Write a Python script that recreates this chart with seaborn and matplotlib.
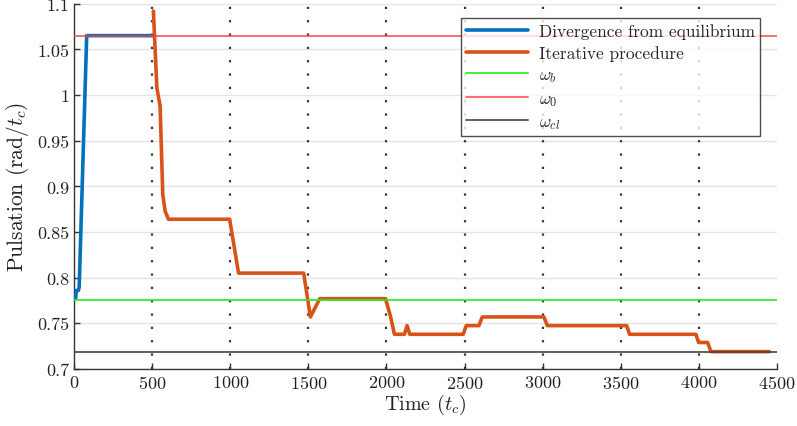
import numpy as np
import pandas as pd
import seaborn as sns
import matplotlib.pyplot as plt

# Dados
t_div = [10, 14, 28, 33, 81, 510]
w_div = [0.777, 0.786, 0.786, 0.790, 1.065, 1.065]

t_iter = [508, 530, 551, 568, 583, 604, 996, 1053, 1470, 1513, 1573, 1994, 2026, 2051,
          2115, 2132, 2149, 2491, 2511, 2592, 2613, 3008, 3030, 3538, 3556, 3981, 3998,
          4056, 4077, 4451]
w_iter = [1.092, 1.008, 0.988, 0.891, 0.873, 0.864, 0.864, 0.805, 0.805, 0.757, 0.777,
          0.777, 0.7575, 0.738, 0.738, 0.7475, 0.738, 0.738, 0.7475, 0.7475, 0.757, 0.757,
          0.7475, 0.7475, 0.738, 0.738, 0.729, 0.729, 0.719, 0.719]

omega_b = 0.776
omega_0 = 1.065
omega_cl = 0.719
markers_t = [500, 1000, 1500, 2000, 2500, 3000, 3500, 4000]

df_div = pd.DataFrame({'t': t_div, 'w': w_div})
df_iter = pd.DataFrame({'t': t_iter, 'w': w_iter})

sns.set_theme(style="white")
plt.rcParams['font.family'] = ['cmr10', 'DejaVu Serif']
plt.rcParams['mathtext.fontset'] = 'cm'
plt.rcParams['axes.formatter.use_mathtext'] = True

fig = plt.figure(figsize=(7.97, 4.27), dpi=100)
ax = fig.add_axes([0.0929, 0.1335, 0.882, 0.8555])

for xv in markers_t:
    ax.axvline(xv, color='#333333', linestyle=(0, (1, 5)), linewidth=1.6, zorder=1)

sns.lineplot(data=df_div, x='t', y='w', ax=ax, color='#0072BD', linewidth=2.6,
             estimator=None, sort=False, label='Divergence from equilibrium', zorder=3)
sns.lineplot(data=df_iter, x='t', y='w', ax=ax, color='#D95319', linewidth=2.6,
             estimator=None, sort=False, label='Iterative procedure', zorder=3)
ax.axhline(omega_b, color='#22ee22', linewidth=1.4, alpha=0.85, label=r'$\omega_b$', zorder=4)
ax.axhline(omega_0, color='#ff3b3b', linewidth=1.4, alpha=0.75, label=r'$\omega_0$', zorder=4)
ax.axhline(omega_cl, color='#444444', linewidth=1.4, alpha=0.85, label=r'$\omega_{cl}$', zorder=4)

ax.set_xlim(0, 4500)
ax.set_ylim(0.7, 1.1)
ax.set_xticks(np.arange(0, 4501, 500))
ax.set_yticks(np.arange(0.7, 1.101, 0.05))
ax.set_yticklabels(['0.7', '0.75', '0.8', '0.85', '0.9', '0.95', '1', '1.05', '1.1'])
ax.yaxis.grid(True, color='#e3e3e3', linewidth=1.0)
ax.set_axisbelow(True)

ax.spines['top'].set_visible(False)
ax.spines['right'].set_visible(False)
for s in ['left', 'bottom']:
    ax.spines[s].set_color('#333333')
    ax.spines[s].set_linewidth(1.0)
ax.tick_params(direction='in', length=4, width=1, colors='#333333', labelsize=13,
               labelcolor='#222222', bottom=True, left=True)

ax.set_xlabel(r'Time ($t_c$)', fontsize=14.5, color='#222222', labelpad=1)
ax.set_ylabel(r'Pulsation (rad/$t_c$)', fontsize=15.5, color='#222222', labelpad=4)

leg = ax.legend(loc='upper right', bbox_to_anchor=(0.976, 0.962), borderaxespad=0,
                fontsize=12.5, frameon=True, fancybox=False, handlelength=3.6,
                labelspacing=0.36, borderpad=0.3, handletextpad=0.6)
leg.get_frame().set_edgecolor('#222222')
leg.get_frame().set_linewidth(1.0)

plt.savefig('out.png', dpi=100)
